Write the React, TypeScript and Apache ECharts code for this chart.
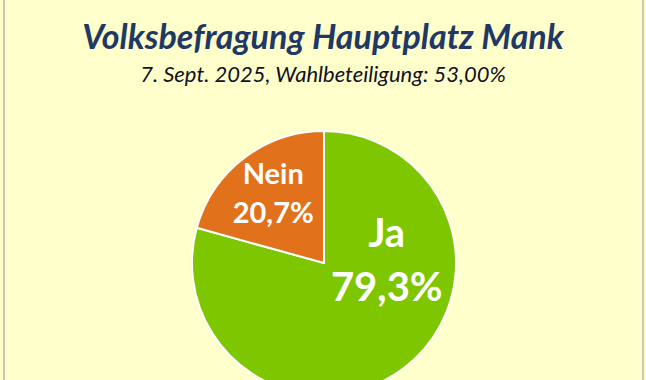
import React, { useEffect, useRef } from "react";
import * as echarts from "echarts";

const titleText = "Volksbefragung Hauptplatz Mank";
const subtitleText = "7. Sept. 2025, Wahlbeteiligung: 53,00%";
const categories = ["Ja", "Nein"];
const shares = [79.3, 20.7];
const sliceColors = ["#7EC600", "#E2711C"];
const labelOffsets = [
  [21, -59],
  [-9, -16],
];
const labelSizes = [40, 29];

export default function App() {
  const ref = useRef<HTMLDivElement>(null);
  useEffect(() => {
    if (!ref.current) return;
    const chart = echarts.init(ref.current, null, { renderer: "svg" });
    chart.setOption({
      animation: false,
      backgroundColor: "#FFFFCC",
      title: [
        {
          text: titleText,
          left: "center",
          top: 13,
          textStyle: {
            fontFamily: "Lato",
            fontWeight: "bold",
            fontStyle: "italic",
            fontSize: 34,
            color: "#1F3864",
          },
        },
        {
          text: subtitleText,
          left: "center",
          top: 57,
          textStyle: {
            fontFamily: "Lato",
            fontWeight: "normal",
            fontStyle: "italic",
            fontSize: 22,
            color: "#111122",
          },
        },
      ],
      series: [
        {
          type: "pie",
          center: [324, 263],
          radius: [0, 132],
          startAngle: 90,
          clockwise: true,
          silent: true,
          itemStyle: { borderColor: "#FFFFFF", borderWidth: 2 },
          label: {
            show: true,
            position: "inside",
            fontFamily: "Lato",
            fontWeight: "bold",
            color: "#FFFFFF",
            formatter: (p: any) =>
              p.name + "\n" + p.value.toFixed(1).replace(".", ",") + "%",
          },
          labelLine: { show: false },
          data: categories.map((c, i) => ({
            name: c,
            value: shares[i],
            itemStyle: { color: sliceColors[i] },
            label: {
              offset: labelOffsets[i],
              fontSize: labelSizes[i],
              lineHeight: labelSizes[i] * 1.35,
            },
          })),
        },
      ],
    });
    return () => chart.dispose();
  }, []);
  return (
    <div
      style={{
        position: "absolute",
        left: 0,
        top: 0,
        width: 646,
        height: 380,
        background: "#FFFFCC",
        overflow: "hidden",
      }}
    >
      <div ref={ref} style={{ position: "absolute", left: 0, top: 0, width: 646, height: 380 }} />
      <div
        style={{
          position: "absolute",
          left: 3,
          top: 0,
          width: 637,
          height: 380,
          borderLeft: "2px solid #C8C8B4",
          borderRight: "2px solid #C8C8B4",
          pointerEvents: "none",
        }}
      />
    </div>
  );
}
